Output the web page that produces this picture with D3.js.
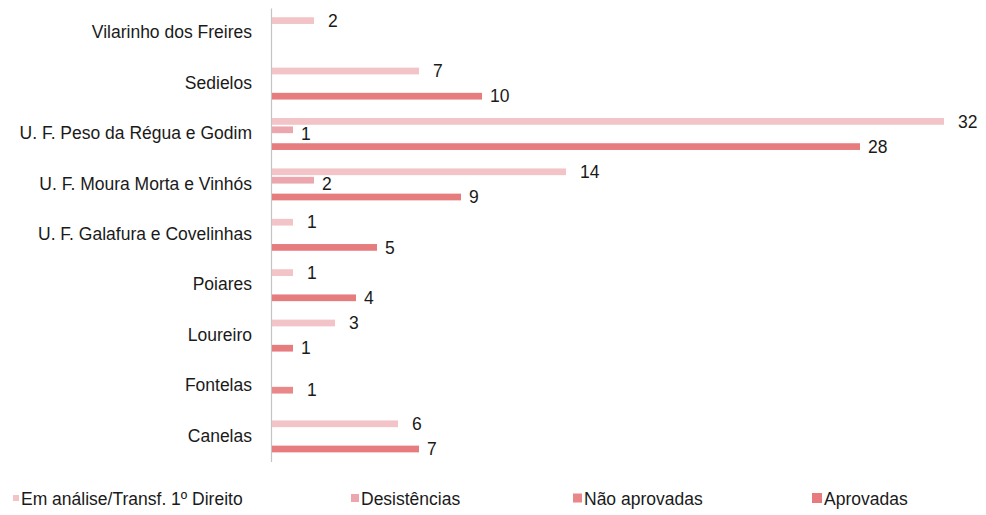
<!DOCTYPE html>
<html>
<head>
<meta charset="utf-8">
<script src="https://cdn.jsdelivr.net/npm/d3@7"></script>
<style>
  body { margin: 0; background: #fff; }
  text { font-family: "Liberation Sans", Arial, sans-serif; fill: #1a1a1a; }
</style>
</head>
<body>
<div id="chart"></div>
<script>
// data
const categories = ["Vilarinho dos Freires", "Sedielos", "U. F. Peso da Régua e Godim",
    "U. F. Moura Morta e Vinhós", "U. F. Galafura e Covelinhas", "Poiares",
    "Loureiro", "Fontelas", "Canelas"];
const seriesNames = ["Em análise/Transf. 1º Direito", "Desistências", "Não aprovadas", "Aprovadas"];
const emAnalise    = [2, 7, 32, 14, 1, 1, 3, 0, 6];
const desistencias = [0, 0, 1, 2, 0, 0, 0, 0, 0];
const naoAprovadas = [0, 0, 0, 0, 0, 0, 0, 1, 0];
const aprovadas    = [0, 10, 28, 9, 5, 4, 1, 0, 7];

const colors = ["#f2c3c7", "#eba7ad", "#e98888", "#e67c7e"];
const labelGap = [15, 9, 15, 9];

const width = 986, height = 515,
      margin = ({top: 8, right: 43, bottom: 56, left: 271});

const series = [emAnalise, desistencias, naoAprovadas, aprovadas];
const rows = [];
categories.forEach((c, i) => {
    series.forEach((s, j) => {
        if (s[i] > 0) rows.push({cat: c, key: seriesNames[j], idx: j, value: s[i]});
    });
});

let svg = d3.select("#chart")
    .append("svg")
    .attr("width", width)
    .attr("height", height);

let y = d3.scaleBand()
    .domain(categories)
    .range([margin.top, height - margin.bottom + 2.6])
    .paddingInner(0.3)
    .paddingOuter(0.15);

let ySub = d3.scaleBand()
    .domain(seriesNames)
    .range([0, y.bandwidth()])
    .padding(0.2);

let x = d3.scaleLinear()
    .domain([0, 32])
    .range([margin.left, width - margin.right]);

// vertical axis line with category names
const yAxis = g => g
    .attr("transform", `translate(${margin.left},0)`)
    .call(d3.axisLeft(y).tickSize(0).tickPadding(19))
    .call(g => g.select(".domain").attr("stroke", "#c4c4c4").attr("stroke-width", 1.2))
    .call(g => g.selectAll("text").attr("font-size", "17.5px").attr("dy", "0.3em"));

svg.append("g").call(yAxis);

let bar = svg.selectAll(".bar")
    .data(rows)
    .join("g")
    .attr("class", "bar");

bar.append("rect")
    .attr("fill", d => colors[d.idx])
    .attr("x", x(0) + 1)
    .attr("y", d => y(d.cat) + ySub(d.key))
    .attr("height", ySub.bandwidth())
    .attr("width", d => x(d.value) - x(0));

bar.append("text")
    .attr("x", d => x(d.value) + labelGap[d.idx])
    .attr("y", d => y(d.cat) + ySub(d.key) + ySub.bandwidth() / 2 + (d.idx === 1 ? 4 : 0))
    .attr("dy", "0.35em")
    .attr("font-size", "17.5px")
    .text(d => d.value);

// legend
const legendX = [10, 350, 573, 813];
const markSize = [6, 8, 9, 10];
let legend = svg.append("g")
    .selectAll("g")
    .data(seriesNames)
    .join("g")
    .attr("transform", (d, i) => `translate(${legendX[i]},${height - 16})`);

legend.append("rect")
    .attr("x", (d, i) => 9 - markSize[i])
    .attr("y", (d, i) => -markSize[i] / 2 - 1)
    .attr("width", (d, i) => markSize[i])
    .attr("height", (d, i) => markSize[i])
    .attr("fill", (d, i) => colors[i]);

legend.append("text")
    .attr("x", 11)
    .attr("dy", "0.32em")
    .attr("font-size", "17.5px")
    .text(d => d);
</script>
</body>
</html>
